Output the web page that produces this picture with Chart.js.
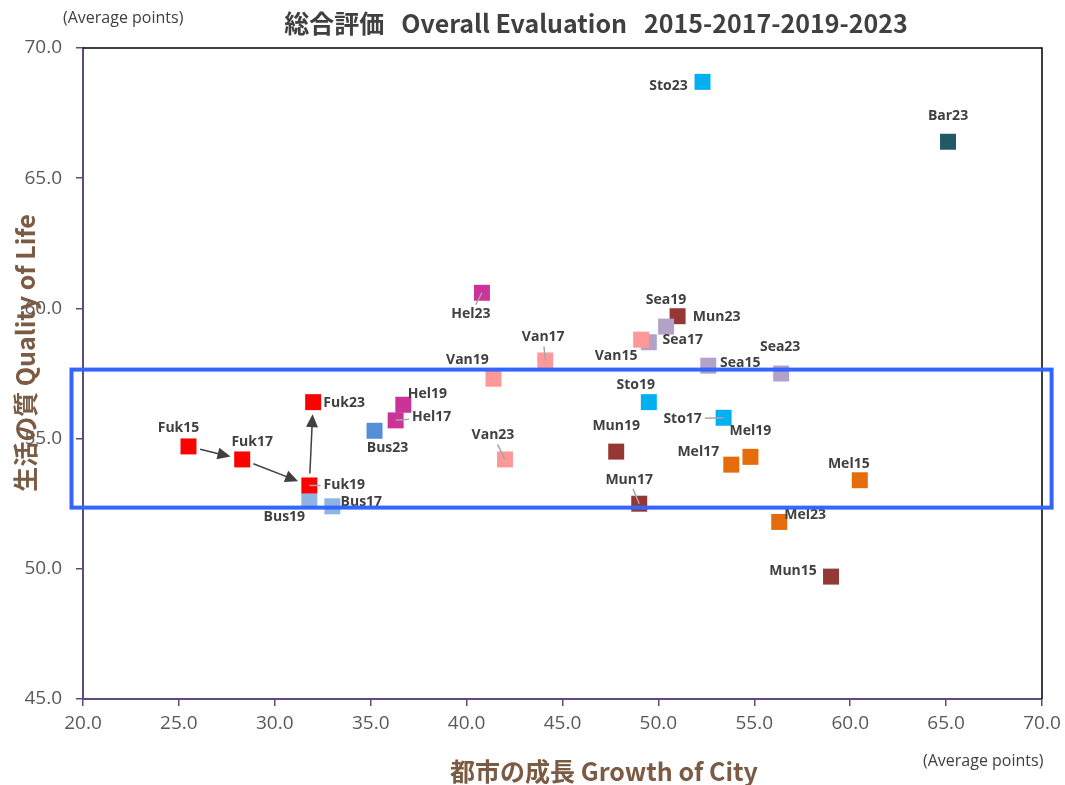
<!DOCTYPE html>
<html>
<head>
<meta charset="utf-8">
<script src="https://cdn.jsdelivr.net/npm/chart.js@4.4.1/dist/chart.umd.min.js"></script>
<style>
  html, body { margin: 0; padding: 0; background: #fff; }
  #wrap { width: 1065px; height: 785px; }
</style>
</head>
<body>
<div id="wrap"><canvas id="myChart" width="1065" height="785"></canvas></div>
<script>
// punti: sigla città + anno
const etichette = ['Fuk15','Fuk17','Fuk19','Fuk23',
                   'Bus17','Bus19','Bus23',
                   'Hel17','Hel19','Hel23',
                   'Van15','Van17','Van19','Van23',
                   'Sea15','Sea17','Sea19','Sea23',
                   'Mun15','Mun17','Mun19','Mun23',
                   'Sto17','Sto19','Sto23',
                   'Mel15','Mel17','Mel19','Mel23',
                   'Bar23'];
// crescita della città (asse x)
const crescita = [25.5, 28.3, 31.8, 32.0,
                  33.0, 31.8, 35.2,
                  36.3, 36.7, 40.8,
                  49.1, 44.1, 41.4, 42.0,
                  52.6, 49.5, 50.4, 56.4,
                  59.0, 49.0, 47.8, 51.0,
                  53.4, 49.5, 52.3,
                  60.5, 53.8, 54.8, 56.3,
                  65.1];
// qualità della vita (asse y)
const qualita = [54.7, 54.2, 53.2, 56.4,
                 52.4, 52.6, 55.3,
                 55.7, 56.3, 60.6,
                 58.8, 58.0, 57.3, 54.2,
                 57.8, 58.7, 59.3, 57.5,
                 49.7, 52.5, 54.5, 59.7,
                 55.8, 56.4, 68.7,
                 53.4, 54.0, 54.3, 51.8,
                 66.4];
// frecce Fukuoka 15 -> 17 -> 19 -> 23
const percorso = ['Fuk15','Fuk17','Fuk19','Fuk23'];
// fascia evidenziata (limiti in punti medi)
const fasciaX = [19.4, 70.5];
const fasciaY = [52.35, 57.65];

const tickX = [20,25,30,35,40,45,50,55,60,65,70];
const tickY = [45,50,55,60,65,70];

// colori per città
const colori = {
  Fuk: '#FF0000', Bus: '#8DB4E2', Hel: '#CC3399', Van: '#FF9999',
  Sea: '#B3A2C7', Mun: '#953735', Sto: '#00B0F0', Mel: '#E46C0A', Bar: '#215968'
};
const coloriSpeciali = { Bus23: '#558ED5' };

// spostamento etichetta rispetto al punto [dx, dy, linea guida]
const posEtichetta = {
  Fuk15: [-10,-18], Fuk17: [10,-17], Fuk19: [35,0,1], Fuk23: [31,1],
  Bus17: [29,-4], Bus19: [-25,16], Bus23: [13,17],
  Hel17: [36,-3,1], Hel19: [24,-11], Hel23: [-11,21,1],
  Van15: [-25,16], Van17: [-2,-23,1], Van19: [-26,-19], Van23: [-12,-24,1],
  Sea15: [32,-3], Sea17: [34,-2], Sea19: [0,-27], Sea23: [-1,-26],
  Mun15: [-38,-6], Mun17: [-10,-24,1], Mun19: [0,-26], Mun23: [39,1],
  Sto17: [-41,1,1], Sto19: [-13,-17], Sto23: [-34,4],
  Mel15: [-11,-16], Mel17: [-33,-13], Mel19: [0,-26], Mel23: [26,-7],
  Bar23: [0,-26]
};

// un dataset per città
const citta = [];
etichette.forEach(e => { const c = e.substring(0,3); if (!citta.includes(c)) citta.push(c); });
const datasets = citta.map(c => {
  const idx = etichette.map((e,i) => i).filter(i => etichette[i].startsWith(c));
  return {
    label: c,
    data: idx.map(i => ({ x: crescita[i], y: qualita[i], nome: etichette[i] })),
    backgroundColor: idx.map(i => coloriSpeciali[etichette[i]] || colori[c]),
    borderWidth: 0,
    pointStyle: 'rect',
    pointRadius: 11.3,
    pointHoverRadius: 11.3
  };
});

function trovaPunto(chart, nome) {
  for (let d = 0; d < chart.data.datasets.length; d++) {
    const ds = chart.data.datasets[d];
    for (let j = 0; j < ds.data.length; j++) {
      if (ds.data[j].nome === nome) {
        const el = chart.getDatasetMeta(d).data[j];
        return { x: el.x, y: el.y };
      }
    }
  }
  return null;
}

const FONT_LAT = "'Open Sans', 'Noto Sans CJK JP', sans-serif";
const FONT_JP = "'Noto Sans CJK JP', 'Open Sans', sans-serif";

const decorazioni = {
  id: 'decorazioni',
  afterDatasetsDraw(chart) {
    const ctx = chart.ctx;
    const a = chart.chartArea;
    const sx = chart.scales.x, sy = chart.scales.y;
    ctx.save();

    // bordo sopra e a destra
    ctx.strokeStyle = '#000';
    ctx.lineWidth = 1.5;
    ctx.beginPath();
    ctx.moveTo(a.left, a.top); ctx.lineTo(a.right, a.top); ctx.lineTo(a.right, a.bottom);
    ctx.stroke();

    // etichette dei punti + linee guida
    ctx.font = 'bold 14px ' + FONT_LAT;
    ctx.textAlign = 'center';
    ctx.textBaseline = 'middle';
    etichette.forEach(nome => {
      const p = trovaPunto(chart, nome);
      const [dx, dy, guida] = posEtichetta[nome];
      const lx = p.x + dx, ly = p.y + dy;
      if (guida) {
        const w = ctx.measureText(nome).width / 2 + 3, h = 9;
        const vx = p.x - lx, vy = p.y - ly;
        const t = Math.min(vx !== 0 ? w / Math.abs(vx) : 99, vy !== 0 ? h / Math.abs(vy) : 99);
        ctx.strokeStyle = '#A6A6A6';
        ctx.lineWidth = 1.5;
        ctx.beginPath();
        ctx.moveTo(lx + vx * t, ly + vy * t);
        ctx.lineTo(p.x, p.y);
        ctx.stroke();
      }
      ctx.fillStyle = '#404040';
      ctx.fillText(nome, lx, ly);
    });

    // frecce Fukuoka
    ctx.strokeStyle = '#404040';
    ctx.fillStyle = '#404040';
    ctx.lineWidth = 1.5;
    for (let k = 0; k < percorso.length - 1; k++) {
      const p0 = trovaPunto(chart, percorso[k]);
      const p1 = trovaPunto(chart, percorso[k+1]);
      const vx = p1.x - p0.x, vy = p1.y - p0.y;
      const len = Math.hypot(vx, vy);
      const ux = vx / len, uy = vy / len;
      const s = 12, e = 12;
      const x0 = p0.x + ux * s, y0 = p0.y + uy * s;
      const x1 = p1.x - ux * e, y1 = p1.y - uy * e;
      const hl = 13, hw = 6;
      ctx.beginPath();
      ctx.moveTo(x0, y0);
      ctx.lineTo(x1 - ux * hl * 0.8, y1 - uy * hl * 0.8);
      ctx.stroke();
      ctx.beginPath();
      ctx.moveTo(x1, y1);
      ctx.lineTo(x1 - ux * hl - uy * hw, y1 - uy * hl + ux * hw);
      ctx.lineTo(x1 - ux * hl + uy * hw, y1 - uy * hl - ux * hw);
      ctx.closePath();
      ctx.fill();
    }

    // fascia evidenziata
    const bx0 = sx.getPixelForValue(fasciaX[0]), bx1 = sx.getPixelForValue(fasciaX[1]);
    const by0 = sy.getPixelForValue(fasciaY[1]), by1 = sy.getPixelForValue(fasciaY[0]);
    ctx.strokeStyle = '#3366FF';
    ctx.lineWidth = 4;
    ctx.strokeRect(bx0, by0, bx1 - bx0, by1 - by0);

    // titoli
    ctx.fillStyle = '#404040';
    ctx.textAlign = 'center';
    ctx.font = 'bold 25px ' + FONT_JP;
    ctx.fillText('総合評価   Overall Evaluation   2015-2017-2019-2023', 596, 23);

    ctx.font = '16px ' + FONT_LAT;
    ctx.textAlign = 'left';
    ctx.fillText('(Average points)', 63, 18);
    ctx.fillText('(Average points)', 923, 761);

    ctx.fillStyle = '#7B5B43';
    ctx.textAlign = 'center';
    ctx.font = 'bold 25px ' + FONT_JP;
    ctx.fillText('都市の成長 Growth of City', 604, 771);
    ctx.translate(25, 353);
    ctx.rotate(-Math.PI / 2);
    ctx.fillText('生活の質 Quality of Life', 0, 0);
    ctx.restore();
  }
};

const VIOLA = '#604A7B';
const ctx = document.getElementById('myChart').getContext('2d');
const myChart = new Chart(ctx, {
  type: 'scatter',
  data: { datasets: datasets },
  options: {
    responsive: false,
    animation: false,
    layout: { padding: { top: 48, right: 23, left: 0, bottom: 0 } },
    plugins: { legend: { display: false }, tooltip: { enabled: false } },
    scales: {
      x: {
        min: 20, max: 70,
        afterFit: s => { s.height = 86; s.paddingLeft = 0; s.paddingRight = 0; },
        afterBuildTicks: s => { s.ticks = tickX.map(v => ({ value: v })); },
        border: { color: VIOLA, width: 2 },
        grid: { drawOnChartArea: false, color: VIOLA, tickLength: 7, lineWidth: 1.5 },
        ticks: {
          padding: 6, color: '#595959',
          font: { family: "'Open Sans', sans-serif", size: 19 },
          maxRotation: 0,
          callback: v => v.toFixed(1)
        }
      },
      y: {
        min: 45, max: 70,
        afterFit: s => { s.width = 83; },
        afterBuildTicks: s => { s.ticks = tickY.map(v => ({ value: v })); },
        border: { color: VIOLA, width: 2 },
        grid: { drawOnChartArea: false, color: VIOLA, tickLength: 7, lineWidth: 1.5 },
        ticks: {
          padding: 14, color: '#595959',
          font: { family: "'Open Sans', sans-serif", size: 19 },
          callback: v => v.toFixed(1)
        }
      }
    }
  },
  plugins: [decorazioni]
});
</script>
</body>
</html>
